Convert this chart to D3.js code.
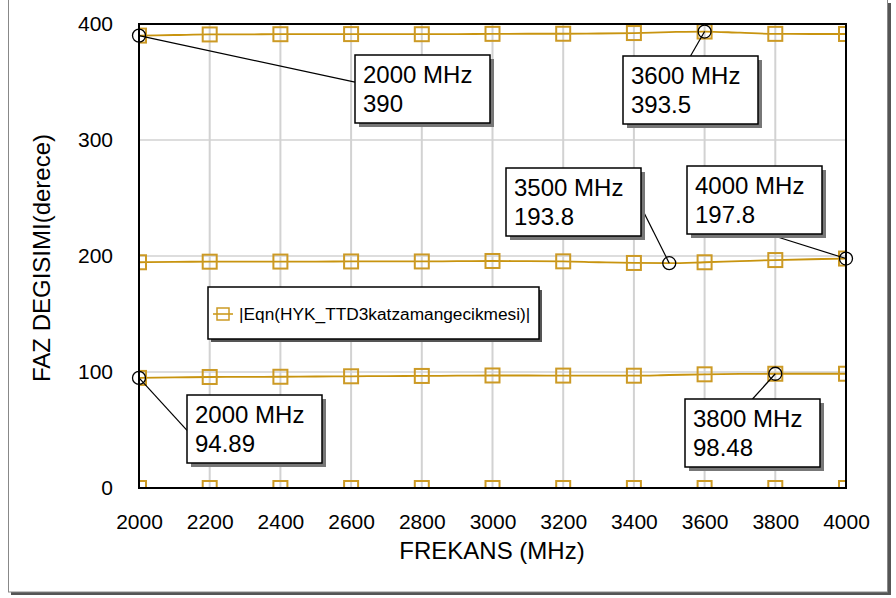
<!DOCTYPE html>
<html>
<head>
<meta charset="utf-8">
<script src="https://cdn.jsdelivr.net/npm/d3@7"></script>
<style>
  body { margin: 0; background: #fff; }
  text { font-family: "Liberation Sans", Arial, sans-serif; fill: #000; }
</style>
</head>
<body>
<script>
// frequency sweep (MHz)
var freqs = [2000, 2100, 2200, 2300, 2400, 2500, 2600, 2700, 2800, 2900, 3000,
             3100, 3200, 3300, 3400, 3500, 3600, 3700, 3800, 3900, 4000];

// phase shift traces (degrees)
var trace0 = [0, 0, 0, 0, 0, 0, 0, 0, 0, 0, 0, 0, 0, 0, 0, 0, 0, 0, 0, 0, 0];
var trace1 = [94.89, 95.3, 95.7, 95.8, 95.9, 96.1, 96.3, 96.5, 96.6, 96.8, 97.0,
              97.0, 96.9, 96.8, 96.8, 97.4, 98.0, 98.3, 98.48, 98.5, 98.5];
var trace2 = [194.6, 195.0, 195.1, 195.2, 195.2, 195.2, 195.3, 195.3, 195.3, 195.5, 195.7,
              195.6, 195.4, 194.6, 194.0, 193.8, 194.6, 195.6, 196.5, 197.2, 197.8];
var trace3 = [390, 390.5, 391, 391.1, 391.2, 391.2, 391.3, 391.2, 391.2, 391.3, 391.5,
              391.6, 391.6, 391.8, 392.2, 393.0, 393.5, 392.5, 391.5, 391.4, 391.4];
var traces = [trace0, trace1, trace2, trace3];

var xTicks = [2000, 2200, 2400, 2600, 2800, 3000, 3200, 3400, 3600, 3800, 4000];
var yTicks = [0, 100, 200, 300, 400];

var legendLabel = "|Eqn(HYK_TTD3katzamangecikmesi)|";
var xTitle = "FREKANS (MHz)";
var yTitle = "FAZ DEGISIMI(derece)";

// markers: frequency, value
var mkFreq = [2000, 3600, 3500, 4000, 2000, 3800];
var mkVal = [390, 393.5, 193.8, 197.8, 94.89, 98.48];
// annotation box corner (left, top) in pixels, and where the leader meets the box (fractions)
var mkBox = [[355, 55], [623, 56], [506, 168], [687, 166], [187, 395], [685, 399]];
var mkAnchor = [[0, 0.4], [0.5, 0], [1, 0.57], [0.6, 1], [0, 0.52], [0.5, 0]];

var W = 896, H = 598;
var svg = d3.select("body").append("svg").attr("width", W).attr("height", H);

// outer frame with shadow
svg.append("rect").attr("x", 11).attr("y", 3).attr("width", 880).attr("height", 592).attr("fill", "#555");
svg.append("rect").attr("x", 8.5).attr("y", -1).attr("width", 879).attr("height", 593)
  .attr("fill", "#fff").attr("stroke", "#888").attr("stroke-width", 1);

var L = 139, R = 846, T = 24, B = 488;
var x = d3.scaleLinear().domain([2000, 4000]).range([L, R]);
var y = d3.scaleLinear().domain([0, 400]).range([B, T]);

// grid
svg.append("g").selectAll("line").data(xTicks).join("line")
  .attr("x1", d => x(d)).attr("x2", d => x(d)).attr("y1", T).attr("y2", B)
  .attr("stroke", "#d2d2d2").attr("stroke-width", 2);
svg.append("g").selectAll("line").data(yTicks).join("line")
  .attr("x1", L).attr("x2", R).attr("y1", d => y(d)).attr("y2", d => y(d))
  .attr("stroke", "#d2d2d2").attr("stroke-width", 1.5);

svg.append("clipPath").attr("id", "plotclip").append("rect")
  .attr("x", L).attr("y", T).attr("width", R - L).attr("height", B - T);

var plot = svg.append("g").attr("clip-path", "url(#plotclip)");
var gold = "#c8940f";

var line = d3.line().x((d, i) => x(freqs[i])).y(d => y(d)).curve(d3.curveMonotoneX);
traces.forEach(function(tr) {
  plot.append("path").datum(tr).attr("d", line)
    .attr("fill", "none").attr("stroke", gold).attr("stroke-width", 1.8);
  plot.append("g").selectAll("rect")
    .data(tr.map((v, i) => [freqs[i], v]).filter(d => d[0] % 200 === 0))
    .join("rect")
    .attr("x", d => x(d[0]) - 7).attr("y", d => y(d[1]) - 7)
    .attr("width", 14).attr("height", 14)
    .attr("fill", "none").attr("stroke", "#cc9a25").attr("stroke-width", 2);
});

// plot frame
svg.append("rect").attr("x", L).attr("y", T).attr("width", R - L).attr("height", B - T)
  .attr("fill", "none").attr("stroke", "#000").attr("stroke-width", 2);

// axis labels
var xAxis = d3.axisBottom(x).tickValues(xTicks).tickSize(0).tickPadding(0).tickFormat(d3.format("d"));
var gx = svg.append("g").attr("transform", "translate(0," + 514 + ")").call(xAxis);
gx.select(".domain").remove();
gx.selectAll("text").attr("font-size", 21).attr("font-family", "Liberation Sans, Arial, sans-serif").attr("fill", "#000");

var yAxis = d3.axisLeft(y).tickValues(yTicks).tickSize(0).tickPadding(0).tickFormat(d3.format("d"));
var gy = svg.append("g").attr("transform", "translate(" + 113 + ",0)").call(yAxis);
gy.select(".domain").remove();
gy.selectAll("text").attr("font-size", 21).attr("font-family", "Liberation Sans, Arial, sans-serif").attr("fill", "#000");

svg.append("text").attr("x", 492).attr("y", 559).attr("text-anchor", "middle")
  .attr("font-size", 24).text(xTitle);
svg.append("text").attr("transform", "translate(50,258) rotate(-90)").attr("text-anchor", "middle")
  .attr("font-size", 24).text(yTitle);

// legend
var lg = svg.append("g");
lg.append("rect").attr("x", 211).attr("y", 290).attr("width", 331).attr("height", 52).attr("fill", "#555");
lg.append("rect").attr("x", 208).attr("y", 287).attr("width", 331).attr("height", 52)
  .attr("fill", "#fff").attr("stroke", "#000").attr("stroke-width", 1.5);
lg.append("line").attr("x1", 213).attr("x2", 233).attr("y1", 314).attr("y2", 314)
  .attr("stroke", gold).attr("stroke-width", 1.5);
lg.append("rect").attr("x", 217).attr("y", 308).attr("width", 12).attr("height", 12)
  .attr("fill", "none").attr("stroke", "#cc9a25").attr("stroke-width", 1.5);
lg.append("text").attr("x", 239).attr("y", 320).attr("font-size", 17.3).text(legendLabel);

// markers and annotation boxes
mkFreq.forEach(function(f, i) {
  var cx = x(f), cy = y(mkVal[i]);
  var bx = mkBox[i][0], by = mkBox[i][1], bw = 135, bh = 68;
  var tx = bx + bw * mkAnchor[i][0], ty = by + bh * mkAnchor[i][1];
  var g = svg.append("g");
  g.append("line").attr("x1", cx).attr("y1", cy).attr("x2", tx).attr("y2", ty)
    .attr("stroke", "#000").attr("stroke-width", 1.2);
  g.append("circle").attr("cx", cx).attr("cy", cy).attr("r", 6.5)
    .attr("fill", "none").attr("stroke", "#000").attr("stroke-width", 1.3);
  g.append("rect").attr("x", bx + 4).attr("y", by + 4).attr("width", bw).attr("height", bh).attr("fill", "#777");
  g.append("rect").attr("x", bx).attr("y", by).attr("width", bw).attr("height", bh)
    .attr("fill", "#fff").attr("stroke", "#000").attr("stroke-width", 1.5);
  g.append("text").attr("x", bx + 8).attr("y", by + 28).attr("font-size", 24).text(f + " MHz");
  g.append("text").attr("x", bx + 8).attr("y", by + 57).attr("font-size", 24).text(mkVal[i]);
});
</script>
</body>
</html>
